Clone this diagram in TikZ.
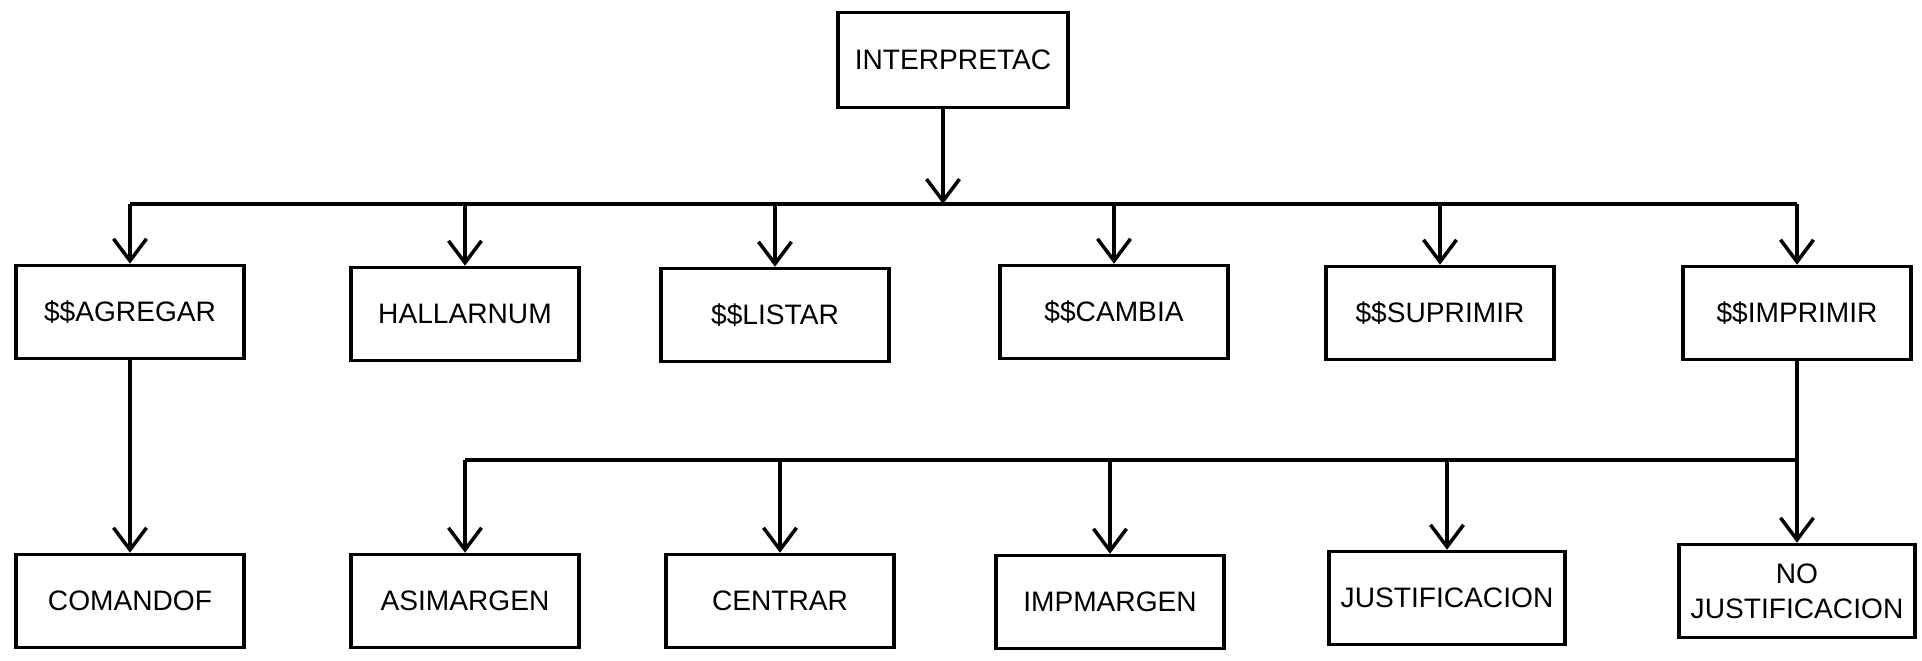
\documentclass[tikz,border=0pt]{standalone}
\usepackage{fontspec}
\setmainfont{Liberation Sans}
\usetikzlibrary{arrows.meta}

\begin{document}
\begin{tikzpicture}[x=0.01cm,y=-0.01cm]
        \useasboundingbox (0,0) rectangle (1922,660);
        \begin{scope}[every node/.style={draw,line width=1pt,minimum width=2.28cm,minimum height=0.93cm,font=\fontsize{8}{10}\selectfont,align=center}]
          \node[minimum width=2.3cm,minimum height=0.95cm] (interp) at (953,60) {INTERPRETAC};
          \node (agregar) at (130,312) {\$\$AGREGAR};
          \node (hallar) at (465,314) {HALLARNUM};
          \node (listar) at (775,315) {\$\$LISTAR};
          \node (cambia) at (1114,312) {\$\$CAMBIA};
          \node (suprimir) at (1440,313) {\$\$SUPRIMIR};
          \node (imprimir) at (1797,313) {\$\$IMPRIMIR};
          \node (comandof) at (130,601) {COMANDOF};
          \node (asimargen) at (465,601) {ASIMARGEN};
          \node (centrar) at (780,601) {CENTRAR};
          \node (impmargen) at (1110,602) {IMPMARGEN};
          \node (justif) at (1447,598) {JUSTIFICACION};
          \node (nojust) at (1797,591) {NO\\JUSTIFICACION};
        \end{scope}
        \coordinate (bus) at (0,204);
        \coordinate (bus2) at (0,460);
        \draw[line width=1pt] (bus -| agregar) -- (bus -| imprimir);
        \draw[line width=1pt] (bus2 -| asimargen) -- (bus2 -| imprimir);
        \begin{scope}[every edge/.style={draw=black,line width=1pt,-{Straight Barb[length=2.2mm,width=3.3mm]}}]
          \path ([xshift=-0.1cm]interp.south) edge ([xshift=-0.1cm]interp.south |- bus);
          \path (bus -| agregar) edge (agregar.north);
          \path (bus -| hallar) edge (hallar.north);
          \path (bus -| listar) edge (listar.north);
          \path (bus -| cambia) edge (cambia.north);
          \path (bus -| suprimir) edge (suprimir.north);
          \path (bus -| imprimir) edge (imprimir.north);
          \path (agregar.south) edge (comandof.north);
          \path (bus2 -| asimargen) edge (asimargen.north);
          \path (bus2 -| centrar) edge (centrar.north);
          \path (bus2 -| impmargen) edge (impmargen.north);
          \path (bus2 -| justif) edge (justif.north);
          \path (imprimir.south) edge (nojust.north);
        \end{scope}
      \end{tikzpicture}
\end{document}
